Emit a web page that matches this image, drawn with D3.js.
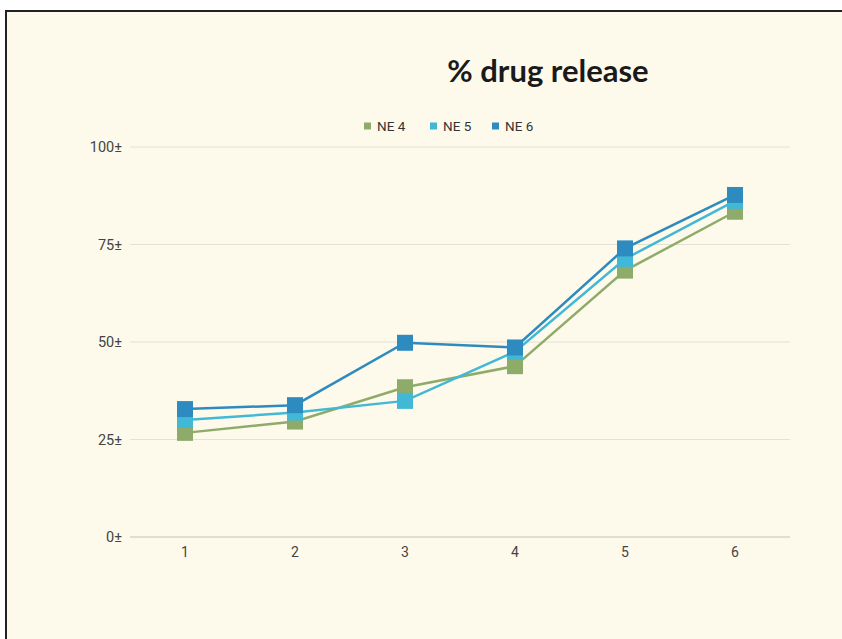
<!DOCTYPE html>
<html>
<head>
<meta charset="utf-8">
<script src="https://cdn.jsdelivr.net/npm/d3@7"></script>
<style>
  html, body { margin: 0; padding: 0; background: #ffffff; overflow: hidden; }
  svg { display: block; }
</style>
</head>
<body>
<div id="chart"></div>
<script>
// chart data
var categories = ["1", "2", "3", "4", "5", "6"];
var seriesNames = ["NE 4", "NE 5", "NE 6"];
var ne4 = [26.7, 29.6, 38.4, 43.8, 68.3, 83.4];
var ne5 = [30.0, 31.9, 34.9, 47.5, 71.3, 86.2];
var ne6 = [32.8, 33.8, 49.8, 48.6, 74.0, 87.7];
var yTicks = [0, 25, 50, 75, 100];
var colors = ["#8fab69", "#42b8d7", "#2e8bbf"];

function createLineChart() {
    var svgWidth = 842;
    var svgHeight = 639;

    var svg = d3.select("#chart")
                .append("svg")
                .attr("width", svgWidth)
                .attr("height", svgHeight);

    // cream panel, framed only on the top and left
    svg.append("rect")
       .attr("x", 6)
       .attr("y", 11)
       .attr("width", svgWidth - 6)
       .attr("height", svgHeight - 11)
       .attr("fill", "#fefaeb");
    svg.append("path")
       .attr("d", "M6," + svgHeight + "V11H" + svgWidth)
       .attr("fill", "none")
       .attr("stroke", "#222")
       .attr("stroke-width", 2);

    var x = d3.scalePoint()
              .domain(categories)
              .range([185, 735]);

    var y = d3.scaleLinear()
              .domain([0, 100])
              .range([537, 147]);

    // gridlines
    svg.selectAll("line.grid")
       .data(yTicks)
       .enter()
       .append("line")
       .attr("class", "grid")
       .attr("x1", 130)
       .attr("x2", 790)
       .attr("y1", function(d) { return y(d); })
       .attr("y2", function(d) { return y(d); })
       .attr("stroke", function(d) { return d === 0 ? "#c4c1b5" : "#e4e0d2"; })
       .attr("stroke-width", 1);

    // y tick labels
    svg.selectAll("text.ytick")
       .data(yTicks)
       .enter()
       .append("text")
       .attr("class", "ytick")
       .text(function(d) { return d + "±"; })
       .attr("x", 122)
       .attr("y", function(d) { return y(d) + 5; })
       .attr("text-anchor", "end")
       .attr("font-family", "Roboto, sans-serif")
       .attr("font-size", "14.5px")
       .attr("fill", "#444");

    // x tick labels
    svg.selectAll("text.xtick")
       .data(categories)
       .enter()
       .append("text")
       .attr("class", "xtick")
       .text(function(d) { return d; })
       .attr("x", function(d) { return x(d); })
       .attr("y", 557)
       .attr("text-anchor", "middle")
       .attr("font-family", "Roboto, sans-serif")
       .attr("font-size", "14px")
       .attr("fill", "#444");

    var series = [ne4, ne5, ne6];
    var line = d3.line()
                 .x(function(d, i) { return x(categories[i]); })
                 .y(function(d) { return y(d); });

    series.forEach(function(values, s) {
        svg.append("path")
           .datum(values)
           .attr("d", line)
           .attr("fill", "none")
           .attr("stroke", colors[s])
           .attr("stroke-width", 2.5);
    });

    var size = 16;
    series.forEach(function(values, s) {
        svg.selectAll("rect.m" + s)
           .data(values)
           .enter()
           .append("rect")
           .attr("class", "m" + s)
           .attr("x", function(d, i) { return x(categories[i]) - size / 2; })
           .attr("y", function(d) { return y(d) - size / 2; })
           .attr("width", size)
           .attr("height", size)
           .attr("fill", colors[s]);
    });

    // title
    svg.append("text")
       .text("% drug release")
       .attr("x", 548)
       .attr("y", 82)
       .attr("text-anchor", "middle")
       .attr("font-family", "Lato, sans-serif")
       .attr("font-weight", "bold")
       .attr("font-size", "31px")
       .attr("fill", "#1a1a1a");

    // legend
    var legendX = [364, 430, 492];
    var legend = svg.selectAll("g.legend")
                    .data(seriesNames)
                    .enter()
                    .append("g")
                    .attr("class", "legend")
                    .attr("transform", function(d, i) {
                      return "translate(" + legendX[i] + ",126)";
                    });
    legend.append("rect")
          .attr("x", 0)
          .attr("y", -3.5)
          .attr("width", 7)
          .attr("height", 7)
          .attr("fill", function(d, i) { return colors[i]; });
    legend.append("text")
          .text(function(d) { return d; })
          .attr("x", 13)
          .attr("y", 5)
          .attr("font-family", "Roboto, sans-serif")
          .attr("font-size", "13.5px")
          .attr("fill", "#333");
}

createLineChart();
</script>
</body>
</html>
